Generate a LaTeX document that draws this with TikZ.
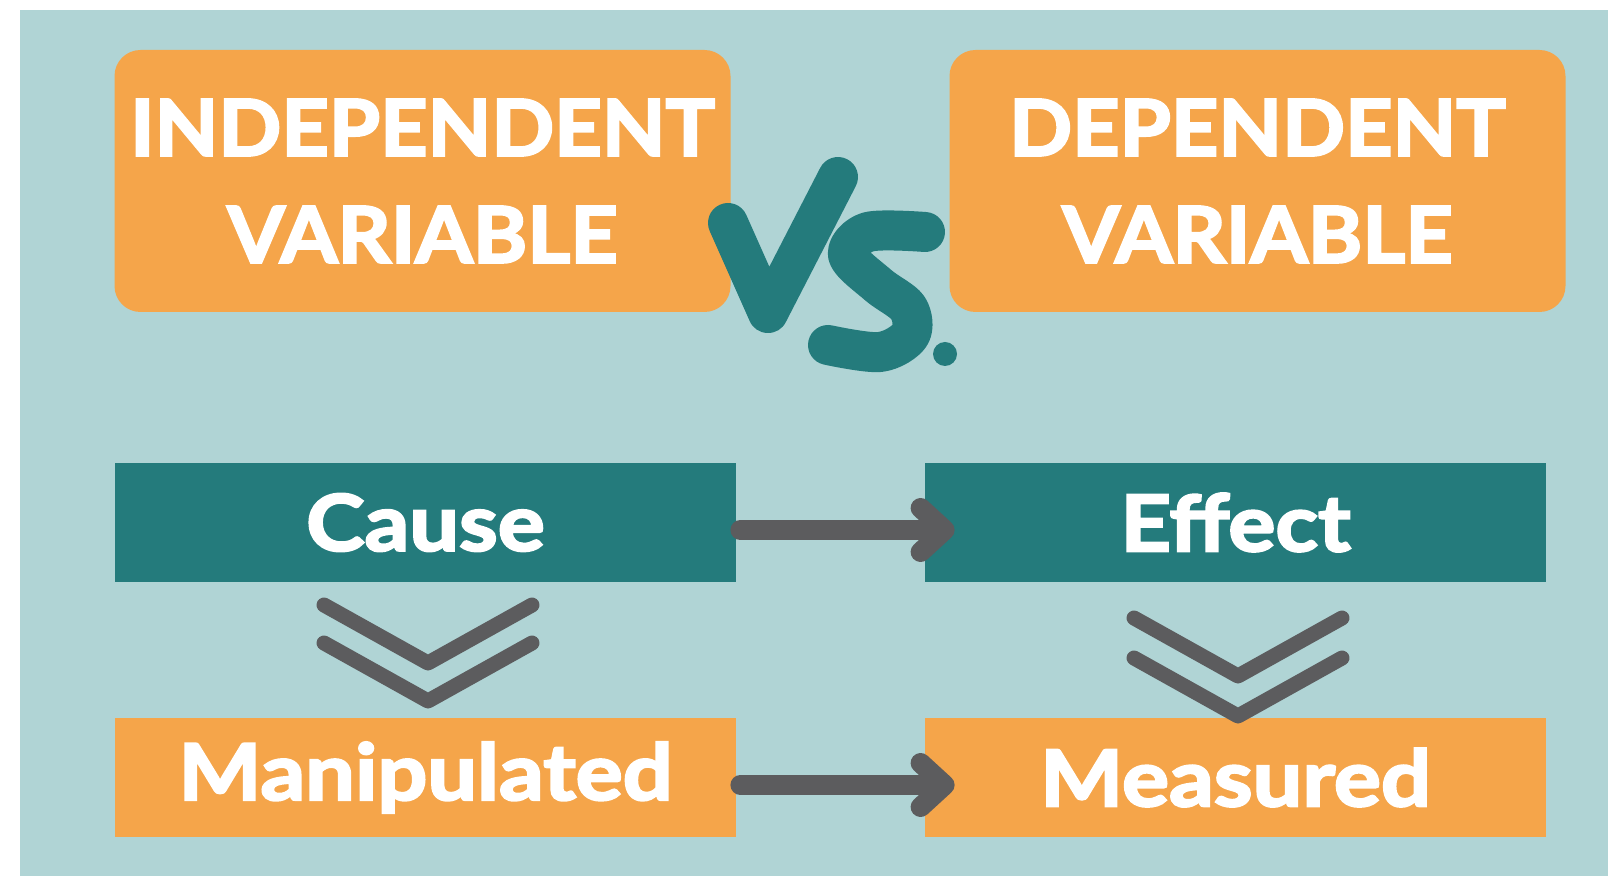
\documentclass[tikz,border=0pt]{standalone}
\usepackage{fontspec}
\setmainfont{Lato}[FakeStretch=1.06,BoldFeatures={FakeBold=3}]
\newfontfamily\wordfont{Lato}[FakeStretch=1.13,BoldFeatures={FakeBold=3}]
\usepackage{tikz}
\usetikzlibrary{arrows.meta}
\definecolor{bgteal}{HTML}{B0D4D5}
\definecolor{boxorange}{HTML}{F5A54A}
\definecolor{darkteal}{HTML}{247B7C}
\definecolor{arrowgray}{HTML}{5C5C5E}

\tikzset{
	topbox/.style={fill=boxorange,rounded corners=13pt,minimum width=308pt,minimum height=131pt,align=center,text=white,font=\fontsize{39}{53.5}\selectfont\bfseries},
	causebox/.style={fill=darkteal,minimum width=310.5pt,minimum height=59.5pt,text=white,font=\wordfont\fontsize{39}{48}\selectfont\bfseries},
	varbox/.style={causebox,fill=boxorange},
	arrowline/.style={arrowgray,line width=10pt,line cap=round,-{Straight Barb[length=12pt,width=22pt,round,line width=0pt 1]}},
	chevron/.style={arrowgray,line width=7.5pt,line cap=round,line join=round},
	brush/.style={darkteal,line width=20pt,line cap=round,line join=round}
}

\begin{document}
\begin{tikzpicture}[x=0.5pt,y=-0.5pt]
	\useasboundingbox (0,0) rectangle (1608,876);
	\fill[bgteal] (20,10) rectangle (1608,876);
	% top boxes
	\node[topbox] (indep) at (422.5,181) {INDEPENDENT\\VARIABLE};
	\node[topbox] (dep) at (1257.5,181) {DEPENDENT\\VARIABLE};
	% vs. in brush strokes
	\draw[brush] (728,223) -- (768,313) -- (838,177);
	\draw[brush] plot[smooth,tension=0.55] coordinates {(925,232) (868,232) (848,255) (878,285) (908,308) (910,335) (880,352) (828,345)};
	\fill[darkteal] (945,354) circle (12);
	% cause and effect
	\node[causebox] (cause) at (425.5,522.5) {Cause};
	\node[causebox] (effect) at (1235.5,522.5) {Effect};
	\node[varbox] (manip) at (425.5,777.5) {Manipulated};
	\node[varbox] (meas) at (1235.5,777.5) {Measured};
	\draw[arrowline,shorten <=2pt,shorten >=-15pt] ([yshift=-3.75pt]cause.east) -- ([yshift=-3.75pt]effect.west);
	\draw[arrowline,shorten <=2pt,shorten >=-15pt] ([yshift=-3.75pt]manip.east) -- ([yshift=-3.75pt]meas.west);
	% double chevrons
	\foreach \x/\y in {428/605, 428/643, 1238/618, 1238/658}
		\draw[chevron] (\x-104,\y) -- (\x,\y+58) -- (\x+104,\y);
\end{tikzpicture}
\end{document}
